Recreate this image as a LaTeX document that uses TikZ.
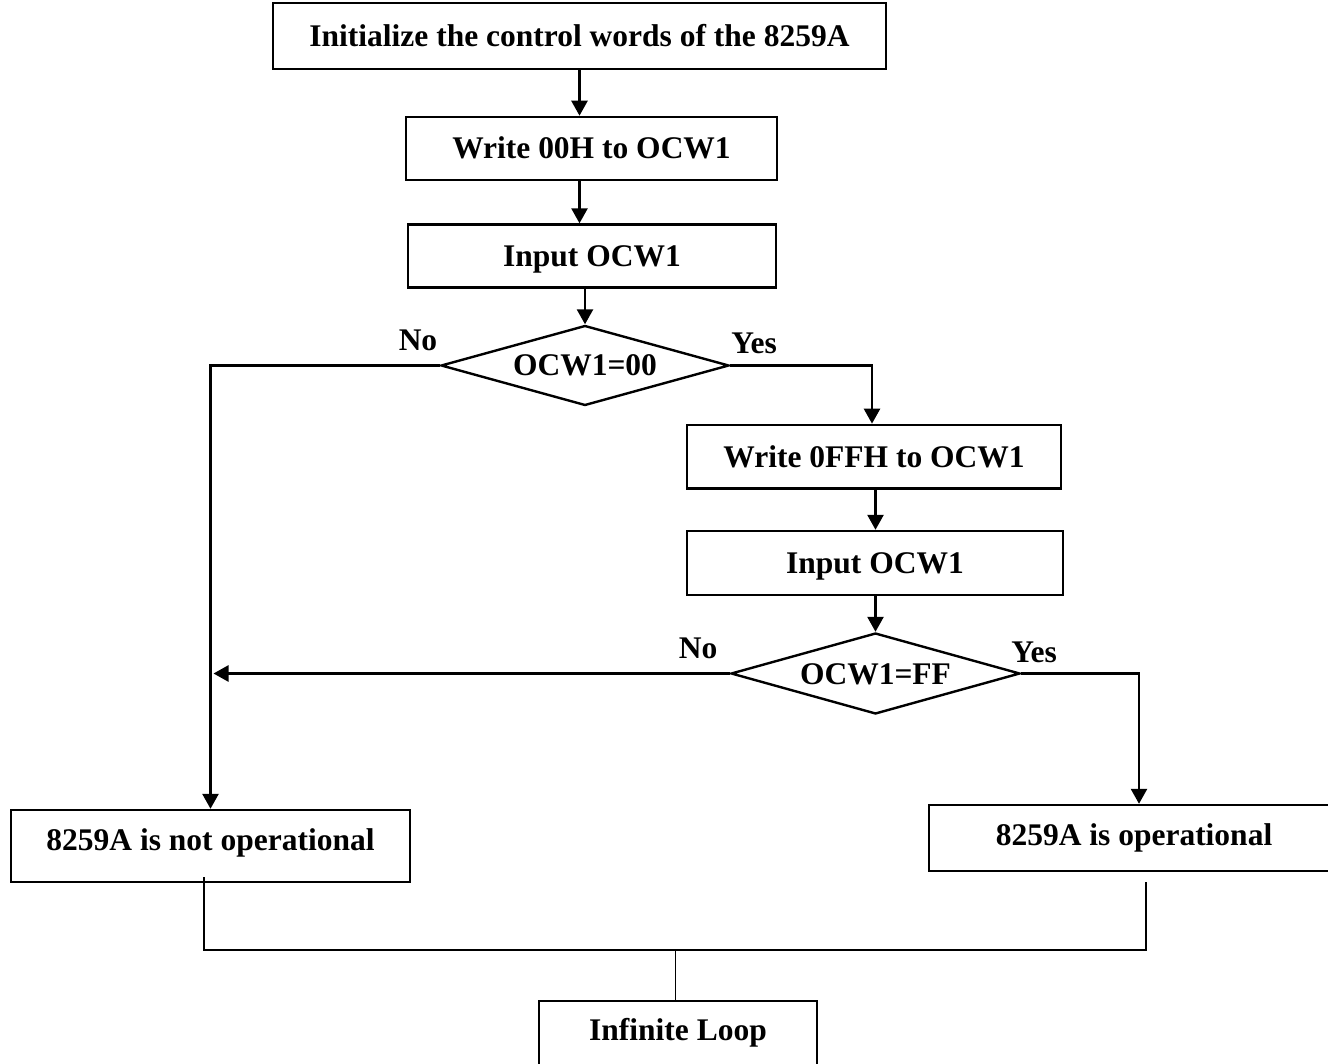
\documentclass[tikz,border=0pt]{standalone}
\usepackage{fontspec}
\setmainfont{Liberation Serif}
\usetikzlibrary{shapes.geometric,arrows.meta,calc}
\begin{document}
\begin{tikzpicture}[x=1pt,y=-1pt,
  font=\fontsize{31.5}{36}\selectfont\bfseries,
  procbox/.style={draw,line width=2.4pt,rectangle,inner sep=0pt,
    text height=21pt,text depth=0pt},
  decision/.style={draw,line width=2.4pt,diamond,aspect=3.6,inner sep=0pt,
    text height=21pt,text depth=0pt},
  flow/.style={line width=2.6pt,-{Triangle[length=15pt,width=16pt]}},
  joinline/.style={line width=1.8pt},
  branch/.style={inner sep=0pt,text height=21pt,text depth=0pt}]
\useasboundingbox (0,0) rectangle (1328,1064);
\clip (0,0) rectangle (1328,1064);

% main sequence
\node[procbox,minimum width=613pt,minimum height=66pt] (b1) at (579.5,36)
  {Initialize the control words of the 8259A};
\node[procbox,minimum width=371pt,minimum height=63pt] (b2) at (591.5,148.4)
  {Write 00H to OCW1};
\node[procbox,minimum width=368pt,minimum height=63pt] (b3) at (592,256)
  {Input OCW1};
\node[decision,minimum width=288pt,minimum height=80pt] (d1) at (585,365.5)
  {OCW1=00};
\node[procbox,minimum width=373.5pt,minimum height=63.5pt] (b4) at (874,456.6)
  {Write 0FFH to OCW1};
\node[procbox,minimum width=376pt,minimum height=64pt] (b5) at (875,563)
  {Input OCW1};
\node[decision,minimum width=289pt,minimum height=81pt] (d2) at (875.5,673.5)
  {OCW1=FF};

% outcomes
\node[procbox,minimum width=399pt,minimum height=72pt,text depth=12pt] (nop)
  at (210.5,846) {8259A is not operational};
\node[procbox,minimum width=410pt,minimum height=66pt,text depth=7pt] (op)
  at (1134,838) {8259A is operational};
\node[procbox,minimum width=278pt,minimum height=66pt,text depth=8pt] (loop)
  at (678,1034) {Infinite Loop};

% branch labels
\node[branch] (no1) at (418,340) {No};
\node[branch] (yes1) at (754,343) {Yes};
\node[branch] (no2) at (698,648) {No};
\node[branch] (yes2) at (1034,652) {Yes};

% flow connectors
\draw[flow] (b1.south) -- (b1.south |- b2.north);
\draw[flow] (b1.south |- b2.south) -- (b1.south |- b3.north);
\draw[flow] (d1.north |- b3.south) -- (d1.north);
\draw[flow] (d1.west) -| (nop.north);
\draw[flow] (d1.east) -| ([xshift=-2pt]b4.north);
\draw[flow] (d2.north |- b4.south) -- (d2.north |- b5.north);
\draw[flow] (d2.north |- b5.south) -- (d2.north);
\draw[flow] (d2.west) -- ([xshift=3pt]nop.north |- d2.west);
\draw[flow] (d2.east) -| ([xshift=5pt]op.north);

% joining lines into the final loop
\coordinate (nopout) at (204,877);
\coordinate (opout) at (1146,882);
\coordinate (busleft) at (204,950);
\coordinate (tap) at (675.5,950);
\draw[joinline] (nopout) -- (busleft) -| (opout);
\draw[joinline] (tap) -- (tap |- loop.north);
\end{tikzpicture}
\end{document}
